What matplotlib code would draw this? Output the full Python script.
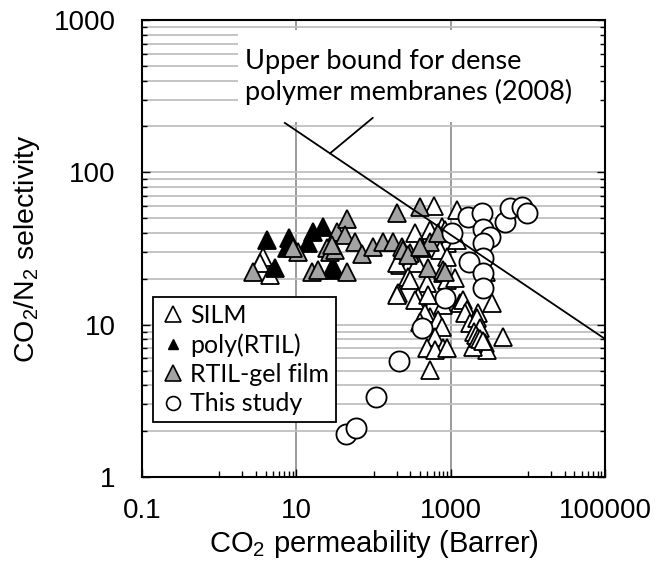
import matplotlib
matplotlib.use("Agg")
import matplotlib.pyplot as plt
from matplotlib.lines import Line2D
from matplotlib.patches import Rectangle
from matplotlib.font_manager import FontProperties
from matplotlib.ticker import NullFormatter

plt.rcParams['font.family'] = ['Liberation Sans', 'DejaVu Sans']
plt.rcParams['mathtext.fontset'] = 'custom'
plt.rcParams['mathtext.rm'] = 'Liberation Sans'
plt.rcParams['mathtext.it'] = 'Liberation Sans:italic'
plt.rcParams['mathtext.bf'] = 'Liberation Sans:bold'

# ---- data: CO2 permeability (Barrer) vs CO2/N2 selectivity ----
silm_p = [3.7, 3.4, 4.55, 606, 1203, 769, 538, 344, 841, 893, 1203, 724, 893,
          220, 296, 365, 201, 792, 2900, 279, 296, 492, 893, 1133, 207, 201,
          376, 344, 507, 792, 1315, 1439, 1621, 3417, 1527, 2250, 538, 463,
          399, 682, 769, 1774, 2185, 2389, 624, 4748, 2185, 2389, 2773, 2943,
          492, 792, 624, 893, 538, 1940, 2000, 2100, 2250, 2400, 2600]
silm_s = [27.8, 25.4, 21.2, 60.2, 56.6, 43.8, 41.8, 40.0, 41.8, 34.4, 36.0, 30.9, 27.8,
          24.7, 25.8, 25.4, 25.4, 21.8, 22.2, 20.5, 19.7, 18.8, 19.7, 20.3, 16.1, 15.7,
          15.2, 14.5, 15.7, 13.5, 13.9, 14.5, 12.5, 13.9, 11.9, 11.9, 11.2, 11.9,
          10.4, 10.7, 9.7, 10.3, 11.1, 9.5, 8.3, 8.3, 7.9, 7.7, 7.6, 6.8,
          7.0, 7.0, 6.8, 7.0, 5.05, 7.1, 9.0, 8.5, 8.2, 8.0, 7.8]

poly_p = [4.16, 5.28, 8.02, 7.55, 14.1, 16.4, 22.1, 31.6, 28.9]
poly_s = [36.0, 23.6, 37.1, 31.9, 34.4, 40.6, 43.8, 22.9, 23.6]

gel_p = [2.74, 10.5, 9.04, 24.9, 15.9, 19.0, 33.6, 45.2, 42.6, 57.4, 70.8, 98.2,
         132, 201, 399, 178, 233, 296, 424, 538, 682, 507, 792, 45.2, 27.2,
         31.6, 28.9, 240, 279, 399, 841]
gel_s = [22.2, 30.0, 31.9, 31.9, 22.2, 22.9, 40.6, 49.4, 38.8, 34.9, 29.1, 32.4,
         34.9, 54.1, 59.3, 34.9, 32.4, 29.6, 31.9, 34.9, 40.0, 23.6, 22.9, 22.2, 30.0,
         30.9, 33.4, 30.9, 28.7, 32.4, 22.2]

study_p = [44, 59, 108, 213, 424, 841, 1040, 1671, 2535, 2612, 3200, 2612,
           2660, 1740, 2612, 2612, 5035, 5848, 8356, 9700]
study_s = [1.92, 2.10, 3.35, 5.78, 9.51, 15.0, 40.0, 50.9, 54.1, 42.5, 37.7, 34.4,
           27.4, 25.8, 21.8, 17.4, 47.2, 58.4, 59.2, 54.1]

# 2008 upper bound (end points of the line)
bound_p = [7.1, 100000]
bound_s = [211, 8.06]

legend_labels = ["SILM", "poly(RTIL)", "RTIL-gel film", "This study"]
bound_label = ["Upper bound for dense", "polymer membranes (2008)"]

x_major = [0.1, 10, 1000, 100000]
x_major_labels = ["0.1", "10", "1000", "100000"]
x_minor = [m * d for d in (1, 100, 10000) for m in range(1, 10)]
y_major = [1, 10, 100, 1000]
y_major_labels = ["1", "10", "100", "1000"]
y_minor = [m * d for d in (1, 10, 100) for m in range(2, 10)]

# ---- figure ----
fig = plt.figure(figsize=(6.57, 5.76), dpi=100)
ax = fig.add_axes([142 / 657, 1 - 477 / 576, 463 / 657, 457 / 576])
ax.set_xscale('log')
ax.set_yscale('log')
ax.set_xlim(0.1, 100000)
ax.set_ylim(1, 1000)

# right-hand ticks live on a twin so they stay above the label box
ax2 = ax.twinx()
ax2.set_yscale('log')
ax2.set_ylim(1, 1000)
ax2.set_yticks(y_major)
ax2.set_yticks(y_minor, minor=True)
ax2.yaxis.set_major_formatter(NullFormatter())
ax2.yaxis.set_minor_formatter(NullFormatter())
ax2.tick_params(axis='y', which='major', direction='in', length=6, width=1.0)
ax2.tick_params(axis='y', which='minor', direction='in', length=3.5, width=1.0)
for sp in ax2.spines.values():
    sp.set_visible(False)

ax.set_xticks(x_major, x_major_labels)
ax.set_xticks(x_minor, minor=True)
ax.set_yticks(y_major, y_major_labels)
ax.set_yticks(y_minor, minor=True)
ax.xaxis.set_minor_formatter(NullFormatter())
ax.yaxis.set_minor_formatter(NullFormatter())

ax.set_axisbelow(True)
ax.yaxis.grid(True, which='both', color='#bfbfbf', lw=1.3)
ax.xaxis.grid(True, which='major', color='#8a8a8a', lw=1.2)

ax.tick_params(axis='x', which='major', labelsize=20, direction='in', width=1.0,
               length=6, pad=15, top=False)
ax.tick_params(axis='x', which='minor', length=4, width=1.0, direction='in', top=False)
ax.tick_params(axis='y', which='major', labelsize=20, direction='in', width=1.0,
               length=6, pad=19, left=True, right=False)
ax.tick_params(axis='y', which='minor', length=3.5, width=1.0, direction='in',
               left=True, right=False)

for sp in ax.spines.values():
    sp.set_linewidth(1.5)
    sp.set_color('black')

# white box behind the upper-bound label
ax.add_patch(Rectangle((0.207, 0.777), 0.793, 0.201, transform=ax.transAxes,
                       facecolor='white', edgecolor='none', zorder=1))

tri_kw = dict(ls='none', marker='^', ms=13.5, mec='black', mew=1.3)
ax.plot(silm_p, silm_s, mfc='white', zorder=3, **tri_kw)
ax.plot(poly_p, poly_s, mfc='black', zorder=3.1, **tri_kw)
ax.plot(gel_p, gel_s, mfc='#a3a3a3', zorder=3.2, **tri_kw)
ax.plot(study_p, study_s, ls='none', marker='o', ms=14.5, mfc='white',
        mec='black', mew=1.3, zorder=3.3)

ax.plot(bound_p, bound_s, color='black', lw=1.3, zorder=6)
ax.annotate('', xy=(27.2, 133), xytext=(98, 228),
            arrowprops=dict(arrowstyle='-', lw=1.3, color='black',
                            shrinkA=0, shrinkB=0), zorder=6)

label_font = FontProperties(family=['Lato', 'DejaVu Sans'], size=19.5)
ax.text(0.2225, 0.892, bound_label[0], transform=ax.transAxes, fontproperties=label_font,
        va='baseline', ha='left', zorder=7)
ax.text(0.2225, 0.826, bound_label[1], transform=ax.transAxes, fontproperties=label_font,
        va='baseline', ha='left', zorder=7)

ax.set_xlabel('CO$_2$ permeability (Barrer)', fontsize=21)
ax.set_ylabel('CO$_2$/N$_2$ selectivity', fontsize=20.5)
ax.xaxis.set_label_coords(0.5, -0.1116)
ax.yaxis.set_label_coords(-0.216, 0.5)

handles = [
    Line2D([], [], ls='none', marker='^', ms=11, mfc='white', mec='black', mew=1.2),
    Line2D([], [], ls='none', marker='^', ms=7.5, mfc='black', mec='black', mew=1.0),
    Line2D([], [], ls='none', marker='^', ms=11, mfc='#a3a3a3', mec='black', mew=1.2),
    Line2D([], [], ls='none', marker='o', ms=10, mfc='white', mec='black', mew=1.2),
]
leg_font = FontProperties(family=['Lato', 'DejaVu Sans'], size=18)
leg = ax.legend(handles, legend_labels, loc='upper left', bbox_to_anchor=(0.0238, 0.394),
                borderaxespad=0, frameon=True, fancybox=False, framealpha=1,
                edgecolor='black', prop=leg_font, handlelength=1.05,
                handletextpad=0.16, borderpad=0.28, labelspacing=0.25)
leg.get_frame().set_linewidth(1.3)
leg.set_zorder(8)

fig.savefig('out.png', dpi=100)
